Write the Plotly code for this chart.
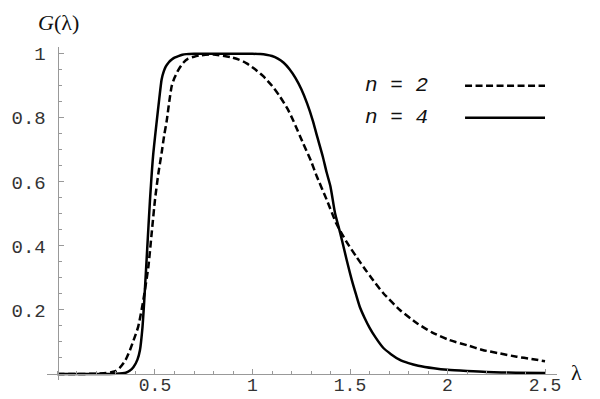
import plotly.graph_objects as go

# n = 4 (solid)
lam_n4 = [0, 0.1, 0.2, 0.3, 0.35, 0.37, 0.39, 0.41, 0.423, 0.435, 0.445, 0.46, 0.474, 0.49,
          0.509, 0.522, 0.534, 0.545, 0.555, 0.57, 0.586, 0.60, 0.62, 0.64, 0.66, 0.7, 0.8,
          0.9, 1.0, 1.04, 1.07, 1.1, 1.13, 1.16, 1.19, 1.22, 1.25, 1.28, 1.31, 1.33, 1.36,
          1.38, 1.40, 1.423, 1.45, 1.483, 1.509, 1.53, 1.55, 1.575, 1.6, 1.63, 1.67, 1.71,
          1.756, 1.8, 1.85, 1.93, 2.0, 2.1, 2.2, 2.35, 2.5]
g_n4 = [0, 0, 0, 0.001, 0.004, 0.01, 0.022, 0.045, 0.075, 0.14, 0.23, 0.39, 0.54, 0.68,
        0.79, 0.86, 0.92, 0.945, 0.96, 0.973, 0.982, 0.988, 0.993, 0.997, 0.999, 1.0, 1.0,
        1.0, 1.0, 0.999, 0.997, 0.993, 0.985, 0.972, 0.952, 0.925, 0.89, 0.845, 0.79, 0.745,
        0.68, 0.63, 0.585, 0.503, 0.44, 0.356, 0.294, 0.25, 0.21, 0.175, 0.145, 0.115, 0.082,
        0.062, 0.044, 0.034, 0.026, 0.018, 0.013, 0.009, 0.006, 0.004, 0.003]

# n = 2 (dashed)
lam_n2 = [0, 0.1, 0.2, 0.25, 0.28, 0.3, 0.32, 0.34, 0.35, 0.372, 0.39, 0.414, 0.44, 0.466,
          0.483, 0.5, 0.517, 0.534, 0.547, 0.56, 0.573, 0.586, 0.60, 0.62, 0.645, 0.67, 0.7,
          0.73, 0.8, 0.885, 0.93, 0.97, 1.01, 1.055, 1.1, 1.14, 1.18, 1.21, 1.26, 1.30, 1.33,
          1.38, 1.43, 1.48, 1.534, 1.58, 1.61, 1.67, 1.756, 1.84, 1.92, 2.01, 2.1, 2.18,
          2.27, 2.355, 2.43, 2.5]
g_n2 = [0, 0, 0.001, 0.003, 0.006, 0.01, 0.02, 0.035, 0.045, 0.075, 0.105, 0.148, 0.23,
        0.335, 0.44, 0.544, 0.625, 0.69, 0.745, 0.79, 0.85, 0.9, 0.925, 0.95, 0.972, 0.985,
        0.991, 0.995, 0.998, 0.99, 0.982, 0.97, 0.953, 0.93, 0.9, 0.867, 0.828, 0.79, 0.72,
        0.665, 0.617, 0.545, 0.47, 0.415, 0.365, 0.325, 0.30, 0.253, 0.2, 0.16, 0.13,
        0.106, 0.09, 0.075, 0.064, 0.054, 0.047, 0.04]

x_ticks = [0.5, 1, 1.5, 2, 2.5]
x_tick_labels = ["0.5", "1", "1.5", "2", "2.5"]
y_ticks = [0.2, 0.4, 0.6, 0.8, 1]
y_tick_labels = ["0.2", "0.4", "0.6", "0.8", "1"]

legend_labels = ["n = 2", "n = 4"]

x_range = [-0.0538, 2.5615]
y_range = [-0.01875, 1.02125]

fig = go.Figure()
fig.add_trace(go.Scatter(x=lam_n2, y=g_n2, mode="lines",
                         line=dict(color="black", width=2.5, dash="7px,3.5px",
                                   shape="spline", smoothing=0.6),
                         showlegend=False, hoverinfo="skip"))
fig.add_trace(go.Scatter(x=lam_n4, y=g_n4, mode="lines",
                         line=dict(color="black", width=2.5, shape="spline", smoothing=0.6),
                         showlegend=False, hoverinfo="skip"))
# invisible helper trace so the label-only axis (x2) is rendered
fig.add_trace(go.Scatter(x=lam_n4, y=g_n4, xaxis="x2", mode="lines",
                         line=dict(color="rgba(0,0,0,0)", width=0),
                         showlegend=False, hoverinfo="skip"))

axis_col = "#999999"
tick_font = dict(family="Liberation Mono, Courier New, monospace", size=19, color="#333333")
xtick_font = dict(family="Liberation Mono, Courier New, monospace", size=18, color="#333333")

fig.update_layout(
    width=600, height=399,
    margin=dict(l=47, r=43, t=47, b=19, autoexpand=False),
    paper_bgcolor="white", plot_bgcolor="white",
    showlegend=False,
    xaxis=dict(range=x_range, anchor="free", position=0.018, automargin=False,
               showgrid=False, zeroline=False, showline=True, linecolor=axis_col, linewidth=1,
               ticks="inside", ticklen=5, tickcolor=axis_col, tickwidth=1,
               tickvals=x_ticks, showticklabels=False,
               minor=dict(ticks="inside", ticklen=3, tickcolor=axis_col, dtick=0.1, tick0=0,
                          showgrid=False)),
    xaxis2=dict(range=x_range, overlaying="x", side="bottom", anchor="free", position=0.024,
                automargin=False, showgrid=False, zeroline=False, showline=False, ticks="",
                tickvals=x_ticks, ticktext=x_tick_labels, tickfont=xtick_font,
                ticklabelstandoff=0),
    yaxis=dict(range=y_range, anchor="free", position=0.0206, automargin=False,
               showgrid=False, zeroline=False, showline=True, linecolor=axis_col, linewidth=1,
               ticks="inside", ticklen=5, tickcolor=axis_col, tickwidth=1,
               tickvals=y_ticks, ticktext=y_tick_labels, tickfont=tick_font,
               ticklabelstandoff=8,
               minor=dict(ticks="inside", ticklen=3, tickcolor=axis_col, dtick=0.05, tick0=0,
                          showgrid=False)),
)

serif = dict(family="Liberation Serif, Times New Roman, serif", size=22, color="#111111")
fig.add_annotation(x=0.0225, y=1.075, xref="paper", yref="paper", text="<i>G</i>(λ)",
                   showarrow=False, font=serif, xanchor="center", yanchor="middle")
fig.add_annotation(x=1.039, y=0.024, xref="paper", yref="paper", text="λ", showarrow=False,
                   font=serif, xanchor="center", yanchor="middle")

leg_font = dict(family="Liberation Mono, Courier New, monospace", size=21, color="#111111")
fig.add_annotation(x=1.74, y=0.9, xref="x", yref="y", text="<i>" + legend_labels[0] + "</i>",
                   showarrow=False, font=leg_font, xanchor="center", yanchor="middle")
fig.add_annotation(x=1.74, y=0.8, xref="x", yref="y", text="<i>" + legend_labels[1] + "</i>",
                   showarrow=False, font=leg_font, xanchor="center", yanchor="middle")
fig.add_shape(type="line", x0=2.09, x1=2.5, y0=0.9, y1=0.9, xref="x", yref="y",
              line=dict(color="black", width=2.5, dash="7px,3.5px"))
fig.add_shape(type="line", x0=2.09, x1=2.5, y0=0.8, y1=0.8, xref="x", yref="y",
              line=dict(color="black", width=2.5))

fig.write_html("out.html", config={"displayModeBar": False},
               post_script="document.body.style.margin='0';document.body.style.overflow='hidden';")
